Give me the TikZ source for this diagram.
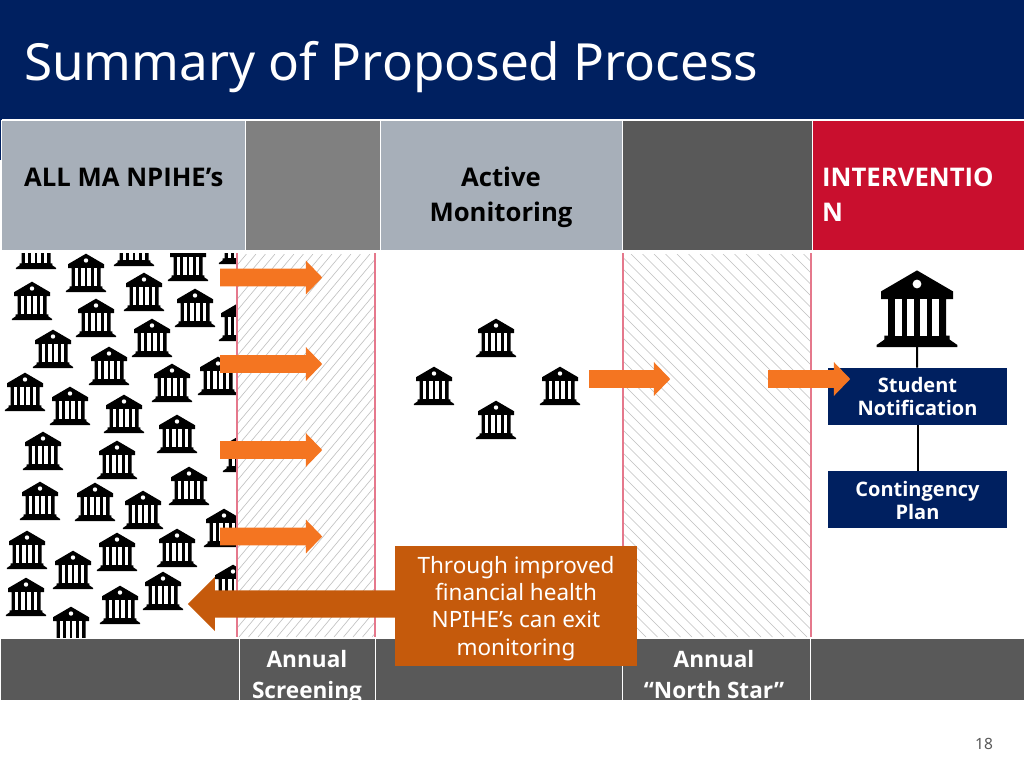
\documentclass[tikz,border=0pt]{standalone}
\usepackage{fontspec}
\setmainfont{Noto Sans}
\newfontfamily\headface{Open Sans}
\usepackage{xcolor}
\usetikzlibrary{arrows.meta,positioning,calc,shapes.arrows}
\definecolor{navy}{HTML}{002060}
\definecolor{steel}{HTML}{A7AFB9}
\definecolor{midgray}{HTML}{808080}
\definecolor{darkgray}{HTML}{595959}
\definecolor{alert}{HTML}{C90F2E}
\definecolor{flow}{HTML}{F47521}
\definecolor{exitflow}{HTML}{C55A0C}
\definecolor{panelred}{HTML}{E5788C}

\tikzset{
  college/.pic={
    \fill[black] (0,-38.3) -- (18,-27.8) -- (18,-24) -- (14.5,-24) -- (14.5,-5.7) -- (16.3,-5.7) -- (16.3,-3.7)
      -- (20.2,-1) -- (20.2,0) -- (-20.2,0) -- (-20.2,-1) -- (-16.3,-3.7) -- (-16.3,-5.7) -- (-14.5,-5.7)
      -- (-14.5,-24) -- (-18,-24) -- (-18,-27.8) -- cycle;
    \fill[white] (0,-31.5) circle (2.2);
    \foreach \g in {-11.2,-4.8,1.4,7.7} {
      \fill[white] (\g,-24) rectangle (\g+3.5,-5.7);
    }
  },
  cell/.style={draw=white, line width=0.9pt},
  hatchline/.style={gray!50, line width=0.6pt},
  headtext/.style={font=\headface\bfseries\fontsize{25.7}{35}\selectfont, align=center, inner sep=0pt},
  foottext/.style={font=\headface\bfseries\fontsize{22.6}{30.5}\selectfont, text=white, align=center, inner sep=0pt},
  navybox/.style={fill=navy, minimum width=179pt, minimum height=57.5pt, inner sep=0pt},
  boxtext/.style={font=\headface\bfseries\fontsize{20}{23.6}\selectfont, text=white, align=center, inner sep=0pt},
  flowarrow/.style={shape=single arrow, fill=flow, inner sep=0pt, anchor=west, text height=17.5pt, text depth=0pt,
    text width=0pt, single arrow head extend=8pt, single arrow tip angle=92},
}

\begin{document}
\begin{tikzpicture}[x=1pt,y=-1pt]
  \useasboundingbox (0,0) rectangle (1024,768);
  \fill[white] (0,0) rectangle (1024,768);

  % Banner
  \fill[navy] (0,0) rectangle (1024,119);
  \fill[navy] (0,119) rectangle (1.5,160);
  \node[font=\fontsize{51.2}{55}\selectfont, text=white, anchor=base west, inner sep=0pt] (title) at (24,80) {Summary of Proposed Process};

  % Header row
  \draw[cell, fill=steel] (1.5,120) rectangle (245.5,250.5);
  \draw[cell, fill=midgray] (245.5,120) rectangle (380.5,250.5);
  \draw[cell, fill=steel] (380.5,120) rectangle (622.5,250.5);
  \draw[cell, fill=darkgray] (622.5,120) rectangle (812.5,250.5);
  \draw[cell, fill=alert] (812.5,120) rectangle (1024,250.5);
  \node[headtext, anchor=base west] (allma) at (24,186) {ALL MA NPIHE’s};
  \node[headtext, anchor=base] (active) at (501,221) {Active\\Monitoring};
  \node[headtext, text=white, anchor=base west, align=left] (intervene) at (822,221) {INTERVENTIO\\N};

  % Crowd of institutions
  \begin{scope}
    \clip (0,253) rectangle (237,637);
    \foreach \x/\y in {36/269, 86/292, 134/266, 188/281, 239/264, 32/320, 144/311, 96/337, 195/327, 239/341,
      53/368, 152/357, 109/385, 172/402, 218/395, 25/411, 70/425, 124/433, 177/453, 43/470,
      117/479, 243/472, 189/505, 40/520, 95/521, 143/529, 224/547, 27/569, 117/571, 177/567,
      73/589, 26/616, 120/624, 163/610, 233/603, 71/645} {
      \pic at (\x,\y) {college};
    }
  \end{scope}

  % Hatched review columns
  \begin{scope}
    \clip (237,254) rectangle (375,637);
    \foreach \x in {-84,-74.5,...,375} {
      \draw[hatchline] (\x,637) -- ++(321,-383);
    }
  \end{scope}
  \begin{scope}
    \clip (623,254) rectangle (811,637);
    \foreach \x in {240,251.5,...,811} {
      \draw[hatchline] (\x,254) -- ++(383,383);
    }
  \end{scope}
  \foreach \x in {237,375,623,811} {
    \draw[panelred, line width=1.3pt] (\x,253) -- (\x,637);
  }

  % Monitored institutions
  \pic at (496,357) {college};
  \pic at (434,405) {college};
  \pic at (560,405) {college};
  \pic at (496,439) {college};

  % Intervention ladder
  \coordinate (bigbase) at (917,346);
  \node[navybox] (notify) at (917.5,396.5) {};
  \node[navybox] (plan) at (917.5,499.5) {};
  \node[boxtext] (notifytext) at (notify) {Student\\Notification};
  \node[boxtext, yshift=-1pt] (plantext) at (plan) {Contingency\\Plan};
  \draw[black, line width=2pt] (bigbase) -- (notify);
  \draw[black, line width=2pt] (notify) -- (plan);
  \pic[scale=2] at (917,347) {college};

  % Screening arrows
  \foreach \y [count=\i] in {277.5,364,450,536.5} {
    \node[flowarrow, minimum height=102pt] (screen\i) at (220,\y) {};
  }
  \node[flowarrow, minimum height=81pt] (tonorth) at (589,379) {};
  \node[flowarrow, minimum height=82pt] (tonotify) at (768,379) {};

  % Footer row
  \draw[cell, fill=darkgray] (0,638) rectangle (239.5,700.5);
  \draw[cell, fill=darkgray] (239.5,638) rectangle (375.5,700.5);
  \draw[cell, fill=darkgray] (375.5,638) rectangle (622.5,700.5);
  \draw[cell, fill=darkgray] (622.5,638) rectangle (810.5,700.5);
  \draw[cell, fill=darkgray] (810.5,638) rectangle (1024,700.5);
  \begin{scope}
    \clip (0,638) rectangle (1024,700);
    \node[foottext, anchor=base] (annualscreen) at (307,698) {Annual\\Screening};
    \node[foottext, anchor=base] (annualnorth) at (714,698) {Annual\\“North Star”};
  \end{scope}

  % Exit path
  \node[shape=single arrow, shape border rotate=180, fill=exitflow, inner sep=0pt, anchor=east,
    text height=27pt, text depth=0pt, text width=0pt, minimum height=208pt, single arrow head extend=13.5pt, single arrow tip angle=90]
    (exitarrow) at (396,604) {};
  \node[fill=exitflow, minimum width=242pt, minimum height=120pt, inner sep=0pt] (exitbox) at (516,605.5) {};
  \node[text=white, inner sep=0pt, align=center, yshift=-3pt,
    font=\fontsize{22.5}{27.2}\selectfont] (exitnote) at (exitbox) {Through improved\\financial health\\NPIHE’s can exit\\monitoring};

  % Page number
  \node[font=\fontsize{15.5}{18}\selectfont, text=darkgray, anchor=base, inner sep=0pt] (pagenum) at (984,749) {18};
\end{tikzpicture}
\end{document}
